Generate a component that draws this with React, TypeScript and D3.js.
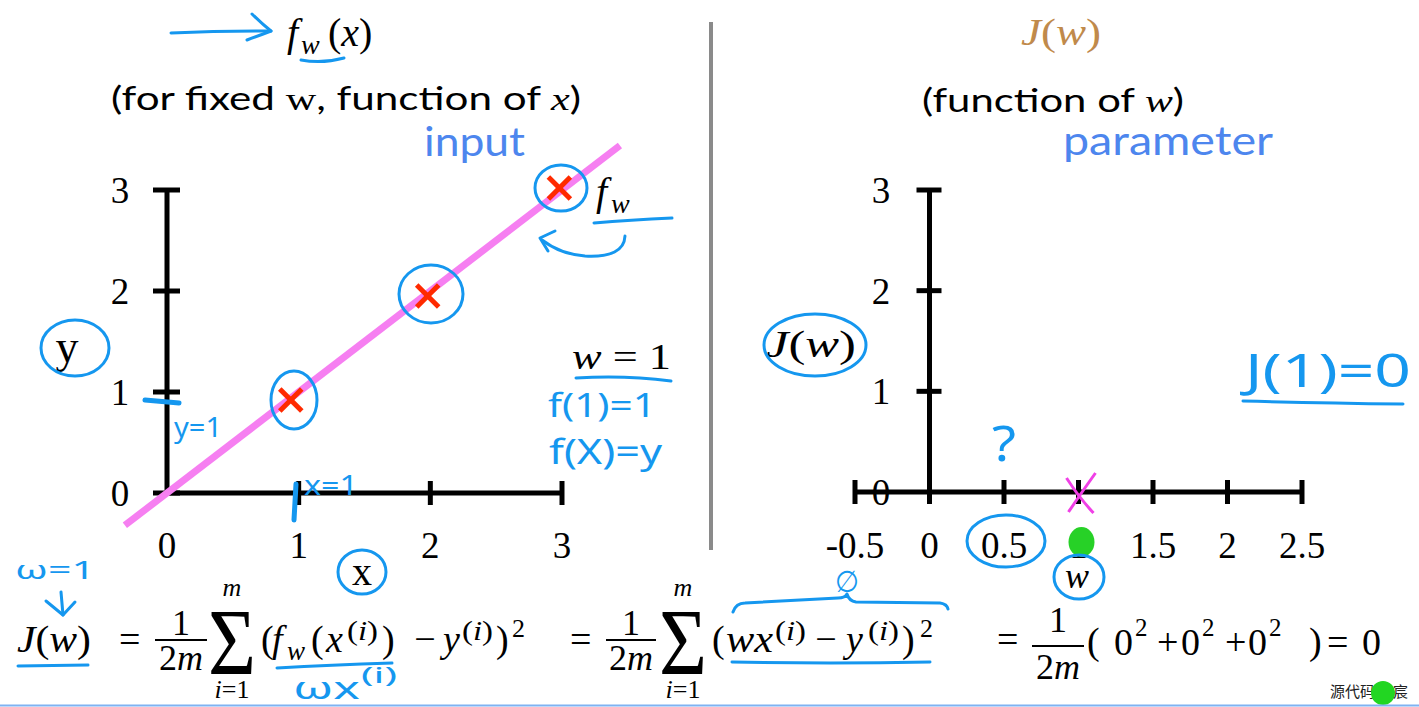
import React from "react";
import * as d3 from "d3";

// ---------- data ----------
const leftXTicks = [0, 1, 2, 3];
const leftYTicks = [0, 1, 2, 3];
const rightYTicks = [0, 1, 2, 3];
const wTicks = [-0.5, 0, 0.5, 1, 1.5, 2, 2.5];
const wTickLabels = ["-0.5", "0", "0.5", "1", "1.5", "2", "2.5"];
const trainX = [0.94, 1.98, 2.98];
const trainY = [0.92, 1.95, 3.02];
const fitRange = [-0.32, 3.44];
const wFixed = 1;
const costAtW = [0];

// ---------- styling ----------
const W = 1419;
const H = 707;
const BLUE = "#1597ef";
const PINK = "#f67ff1";
const RED = "#ff2a00";
const SERIF = "'Liberation Serif', 'DejaVu Serif', serif";
const SANS = "Lato, 'Open Sans', sans-serif";
const HAND = "'Noto Sans', 'DejaVu Sans', sans-serif";

const xL = d3.scaleLinear().domain([0, 3]).range([167, 562]);
const yL = d3.scaleLinear().domain([0, 3]).range([493, 190]);
const xR = d3.scaleLinear().domain([-0.5, 2.5]).range([855, 1302]);
const yR = d3.scaleLinear().domain([0, 3]).range([492, 190]);

const fitLine = d3.line<number>().x((d) => xL(d)).y((d) => yL(wFixed * d));

function Tx(props: any) {
  const { children, ...rest } = props;
  return (
    <text fontFamily={SERIF} fill="#000" {...rest}>
      {children}
    </text>
  );
}

function Hand(props: any) {
  const { children, ...rest } = props;
  return (
    <text fontFamily={HAND} fill={BLUE} {...rest}>
      {children}
    </text>
  );
}

function Frac({ cx, lineY, x1, x2, numY, denY, size }: any) {
  return (
    <g>
      <Tx x={cx} y={numY} fontSize={size} textAnchor="middle">1</Tx>
      <line x1={x1} x2={x2} y1={lineY} y2={lineY} stroke="#000" strokeWidth={2} />
      <Tx x={cx} y={denY} fontSize={size} textAnchor="middle">
        2<tspan fontStyle="italic">m</tspan>
      </Tx>
    </g>
  );
}

function Sigma({ cx }: any) {
  return (
    <g>
      <Tx x={cx} y={596} fontSize={26} fontStyle="italic" textAnchor="middle">m</Tx>
      <Tx x={cx - 24} y={675} fontSize={96} textLength={48} lengthAdjust="spacingAndGlyphs">Σ</Tx>
      <Tx x={cx} y={698} fontSize={26} textAnchor="middle">
        <tspan fontStyle="italic">i</tspan>=1
      </Tx>
    </g>
  );
}

function Sup({ x, y }: any) {
  return (
    <Tx x={x} y={y} fontSize={27} textLength={31} lengthAdjust="spacingAndGlyphs">
      (<tspan fontStyle="italic">i</tspan>)
    </Tx>
  );
}

export default function App() {
  const B = 652; // formula baseline
  return (
    <svg
      width={W}
      height={H}
      viewBox={`0 0 ${W} ${H}`}
      style={{ position: "absolute", left: 0, top: 0, background: "#fff" }}
    >
      <rect width={W} height={H} fill="#fff" />

      {/* ---------- left titles ---------- */}
      <Tx x={287} y={46} fontSize={40} fontStyle="italic">f</Tx>
      <Tx x={301} y={54} fontSize={28} fontStyle="italic">w</Tx>
      <Tx x={328} y={46} fontSize={40}>
        (<tspan fontStyle="italic">x</tspan>)
      </Tx>
      <text x={111} y={110} fontFamily={SANS} fontSize={32} textLength={470} lengthAdjust="spacingAndGlyphs">
        (for fixed <tspan fontFamily={SERIF}> w</tspan>, function of <tspan fontFamily={SERIF} fontStyle="italic">x</tspan>)
      </text>
      <text x={424} y={156} fontFamily={SANS} fontSize={40} fill="#4d86ee" textLength={101} lengthAdjust="spacingAndGlyphs">
        input
      </text>

      {/* ---------- separator ---------- */}
      <line x1={711} x2={711} y1={22} y2={550} stroke="#8a8a8a" strokeWidth={4} />

      {/* ---------- right titles ---------- */}
      <Tx x={1021} y={45} fontSize={38} fill="#c08a4b" textLength={80} lengthAdjust="spacingAndGlyphs">
        <tspan fontStyle="italic">J</tspan>(<tspan fontStyle="italic">w</tspan>)
      </Tx>
      <text x={922} y={112} fontFamily={SANS} fontSize={32} textLength={262} lengthAdjust="spacingAndGlyphs">
        (function of <tspan fontFamily={SERIF} fontStyle="italic">w</tspan>)
      </text>
      <text x={1063} y={155} fontFamily={SANS} fontSize={40} fill="#4d86ee" textLength={210} lengthAdjust="spacingAndGlyphs">
        parameter
      </text>

      {/* ---------- left chart ---------- */}
      <g stroke="#000" strokeWidth={5}>
        <line x1={xL(0)} x2={xL(0)} y1={yL(3)} y2={yL(0)} />
        <line x1={xL(0)} x2={xL(3)} y1={yL(0)} y2={yL(0)} />
        {leftYTicks.map((t) => (
          <line key={"ly" + t} x1={xL(0) - 14} x2={xL(0) + 13} y1={yL(t)} y2={yL(t)} />
        ))}
        {leftXTicks.filter((t) => t > 0).map((t) => (
          <line key={"lx" + t} x1={xL(t)} x2={xL(t)} y1={yL(0) - 12} y2={yL(0) + 12} />
        ))}
      </g>
      {leftYTicks.map((t) => (
        <Tx key={"lyl" + t} x={120} y={yL(t) + 13} fontSize={37} textAnchor="middle">{t}</Tx>
      ))}
      {leftXTicks.map((t) => (
        <Tx key={"lxl" + t} x={xL(t)} y={558} fontSize={37} textAnchor="middle">{t}</Tx>
      ))}
      <path d={fitLine(fitRange) || ""} stroke={PINK} strokeWidth={7} fill="none" />
      {trainX.map((x, i) => {
        const cx = xL(x);
        const cy = yL(trainY[i]);
        return (
          <g key={"tr" + i} stroke={RED} strokeWidth={5}>
            <line x1={cx - 11} x2={cx + 11} y1={cy - 11} y2={cy + 11} />
            <line x1={cx - 11} x2={cx + 11} y1={cy + 11} y2={cy - 11} />
          </g>
        );
      })}

      {/* ---------- right chart ---------- */}
      <g stroke="#000" strokeWidth={5}>
        <line x1={xR(0)} x2={xR(0)} y1={yR(3)} y2={yR(0)} />
        <line x1={xR(-0.5)} x2={xR(2.5)} y1={yR(0)} y2={yR(0)} />
        {rightYTicks.filter((t) => t > 0).map((t) => (
          <line key={"ry" + t} x1={xR(0) - 13} x2={xR(0) + 12} y1={yR(t)} y2={yR(t)} />
        ))}
        {wTicks.map((t) => (
          <line key={"rx" + t} x1={xR(t)} x2={xR(t)} y1={yR(0) - 12} y2={yR(0) + 12} />
        ))}
      </g>
      {rightYTicks.map((t) => (
        <Tx key={"ryl" + t} x={881} y={yR(t) + 13} fontSize={37} textAnchor="middle">{t}</Tx>
      ))}
      {wTicks.map((t, i) => (
        <Tx key={"rxl" + t} x={xR(t)} y={558} fontSize={37} textAnchor="middle">{wTickLabels[i]}</Tx>
      ))}
      {/* pink mark at J(1) = 0 */}
      <g stroke="#f040e6" strokeWidth={3} fill="none">
        <path d={`M${xR(wFixed) - 12},${yR(costAtW[0]) - 14} Q${xR(wFixed)},${yR(costAtW[0]) + 5} ${xR(wFixed) + 15},${yR(costAtW[0]) + 21}`} />
        <path d={`M${xR(wFixed) + 17},${yR(costAtW[0]) - 19} Q${xR(wFixed) + 2},${yR(costAtW[0]) + 2} ${xR(wFixed) - 10},${yR(costAtW[0]) + 20}`} />
      </g>
      <ellipse cx={xR(wFixed) + 3} cy={542} rx={13} ry={15} fill="#27d127" />

      {/* ---------- axis names ---------- */}
      <Tx x={67} y={362} fontSize={46} textAnchor="middle">y</Tx>
      <Tx x={362} y={585} fontSize={40} textAnchor="middle">x</Tx>
      <Tx x={766} y={357} fontSize={38} textLength={90} lengthAdjust="spacingAndGlyphs">
        <tspan fontStyle="italic">J</tspan>(<tspan fontStyle="italic">w</tspan>)
      </Tx>
      <Tx x={1077} y={588} fontSize={36} fontStyle="italic" textAnchor="middle">w</Tx>

      {/* f_w label & w = 1 */}
      <Tx x={596} y={205} fontSize={40} fontStyle="italic">f</Tx>
      <Tx x={611} y={213} fontSize={28} fontStyle="italic">w</Tx>
      <Tx x={572} y={369} fontSize={36} textLength={99} lengthAdjust="spacingAndGlyphs">
        <tspan fontStyle="italic">w</tspan> = 1
      </Tx>

      {/* ---------- formula ---------- */}
      <Tx x={17} y={B} fontSize={38} textLength={74} lengthAdjust="spacingAndGlyphs">
        <tspan fontStyle="italic">J</tspan>(<tspan fontStyle="italic">w</tspan>)
      </Tx>
      <Tx x={119} y={B} fontSize={38}>=</Tx>
      <Frac cx={181} x1={155} x2={207} lineY={640} numY={635} denY={670} size={36} />
      <Sigma cx={232} />
      <Tx x={261} y={B} fontSize={38}>(</Tx>
      <Tx x={272} y={B} fontSize={38} fontStyle="italic">f</Tx>
      <Tx x={287} y={B + 8} fontSize={27} fontStyle="italic">w</Tx>
      <Tx x={311} y={B} fontSize={38}>(</Tx>
      <Tx x={326} y={B} fontSize={38} fontStyle="italic">x</Tx>
      <Sup x={347} y={B - 12} />
      <Tx x={382} y={B} fontSize={38}>)</Tx>
      <Tx x={425} y={B} fontSize={38} textAnchor="middle">−</Tx>
      <Tx x={443} y={B} fontSize={38} fontStyle="italic">y</Tx>
      <Sup x={462} y={B - 12} />
      <Tx x={496} y={B} fontSize={38}>)</Tx>
      <Tx x={512} y={B - 15} fontSize={26}>2</Tx>
      <Tx x={570} y={B} fontSize={38}>=</Tx>
      <Frac cx={631} x1={606} x2={656} lineY={640} numY={635} denY={670} size={36} />
      <Sigma cx={683} />
      <Tx x={712} y={B} fontSize={38}>(</Tx>
      <Tx x={726} y={B} fontSize={38} fontStyle="italic" textLength={47} lengthAdjust="spacingAndGlyphs">wx</Tx>
      <Sup x={775} y={B - 12} />
      <Tx x={826} y={B} fontSize={38} textAnchor="middle">−</Tx>
      <Tx x={846} y={B} fontSize={38} fontStyle="italic">y</Tx>
      <Sup x={868} y={B - 12} />
      <Tx x={902} y={B} fontSize={38}>)</Tx>
      <Tx x={920} y={B - 15} fontSize={26}>2</Tx>
      <Tx x={997} y={B} fontSize={38}>=</Tx>
      <Frac cx={1058} x1={1032} x2={1084} lineY={646} numY={632} denY={679} size={36} />
      <Tx x={1087} y={B + 2} fontSize={38}>(</Tx>
      {costAtW.concat(costAtW, costAtW).map((v, i) => (
        <g key={"sq" + i}>
          <Tx x={1114 + i * 67} y={B + 3} fontSize={38}>{v}</Tx>
          <Tx x={1135 + i * 67} y={B - 16} fontSize={25}>2</Tx>
          {i < 2 && <Tx x={1157 + i * 68} y={B + 3} fontSize={38}>+</Tx>}
        </g>
      ))}
      <Tx x={1309} y={B + 2} fontSize={38}>)</Tx>
      <Tx x={1327} y={B + 3} fontSize={38}>=</Tx>
      <Tx x={1362} y={B + 3} fontSize={38}>{d3.sum(costAtW)}</Tx>

      {/* ---------- handwritten annotations ---------- */}
      <g stroke={BLUE} strokeWidth={3} fill="none" strokeLinecap="round" strokeLinejoin="round">
        {/* top arrow */}
        <path d="M171,33 Q220,31 271,31" />
        <path d="M252,14 Q262,24 271,31 Q258,36 247,40" />
        <path d="M301,60 Q322,64 344,58" />
        {/* circles around points */}
        <ellipse cx={294} cy={400} rx={23} ry={29} />
        <ellipse cx={431} cy={294} rx={32} ry={29} />
        <ellipse cx={561} cy={188} rx={26} ry={23} />
        {/* f_w underline & arrow */}
        <path d="M594,223 Q630,220 672,218" />
        <path d="M625,236 Q624,258 585,256 Q560,254 542,240" />
        <path d="M555,231 L540,238 L548,251" />
        {/* y circle, marks */}
        <ellipse cx={75} cy={348} rx={34} ry={28} />
        <path d="M145,400 L179,403" strokeWidth={5} />
        <path d="M296,484 L294,520" strokeWidth={5} />
        <path d="M576,378 Q625,375 671,381" />
        {/* x circle */}
        <ellipse cx={362} cy={572} rx={24} ry={22} />
        {/* w=1 arrow */}
        <path d="M61,592 L63,615" />
        <path d="M46,601 L63,615 L75,602" />
        {/* J(w) underline */}
        <path d="M18,666 L88,665" />
        <path d="M277,668 Q330,665 392,663" />
        {/* overbrace */}
        <path d="M733,612 Q736,603 745,603 L838,598 Q845,598 847,594 Q849,601 856,602 L940,603 Q947,604 948,609" />
        <path d="M732,662 Q830,664 930,662" />
        {/* right chart circles */}
        <ellipse cx={815} cy={345} rx={51} ry={31} />
        <ellipse cx={1006} cy={541} rx={39} ry={26} />
        <ellipse cx={1079} cy={577} rx={25} ry={22} />
        <path d="M1243,401 Q1320,403 1403,404" />
      </g>
      <Hand x={174} y={437} fontSize={28} textLength={48} lengthAdjust="spacingAndGlyphs">y=1</Hand>
      <Hand x={304} y={495} fontSize={28} textLength={54} lengthAdjust="spacingAndGlyphs">x=1</Hand>
      <Hand x={548} y={417} fontSize={32} textLength={108} lengthAdjust="spacingAndGlyphs">f(1)=1</Hand>
      <Hand x={549} y={464} fontSize={34} textLength={113} lengthAdjust="spacingAndGlyphs">f(X)=y</Hand>
      <Hand x={15} y={579} fontSize={26} textLength={80} lengthAdjust="spacingAndGlyphs">ω=1</Hand>
      <Hand x={293} y={699} fontSize={30} textLength={67} lengthAdjust="spacingAndGlyphs">ωx</Hand>
      <Hand x={361} y={683} fontSize={22} textLength={36} lengthAdjust="spacingAndGlyphs">(i)</Hand>
      <Hand x={835} y={592} fontSize={30} textLength={24} lengthAdjust="spacingAndGlyphs">∅</Hand>
      <Hand x={992} y={461} fontSize={50} textLength={24} lengthAdjust="spacingAndGlyphs">?</Hand>
      <Hand x={1245} y={387} fontSize={46} textLength={166} lengthAdjust="spacingAndGlyphs">J(1)=0</Hand>

      {/* ---------- watermark & bottom line ---------- */}
      <text x={1330} y={697} fontFamily="'Noto Sans CJK SC', sans-serif" fontSize={15} fill="#222">源代码</text>
      <circle cx={1383} cy={693} r={12} fill="#22d622" />
      <text x={1393} y={697} fontFamily="'Noto Sans CJK SC', sans-serif" fontSize={15} fill="#222">宸</text>
      <line x1={0} x2={W} y1={705.5} y2={705.5} stroke="#7fb2f2" strokeWidth={2} />
    </svg>
  );
}
